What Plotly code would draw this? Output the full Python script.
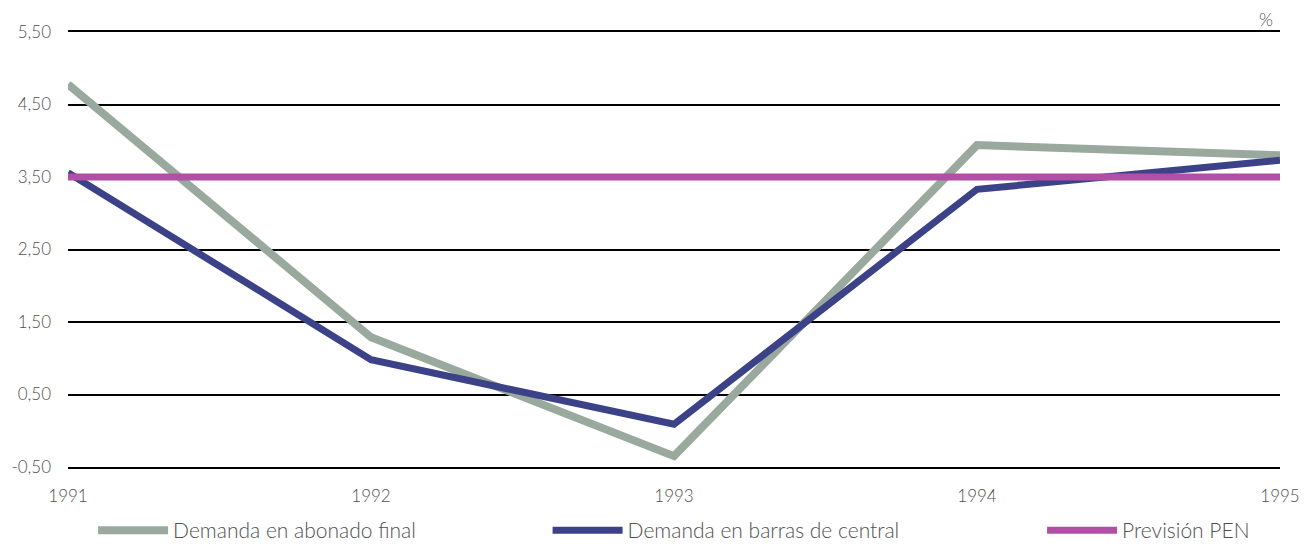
import plotly.graph_objects as go

years = [1991, 1992, 1993, 1994, 1995]
abonado_final = [4.78, 1.29, -0.35, 3.94, 3.80]
barras_central = [3.56, 0.98, 0.09, 3.33, 3.73]
prevision_pen = [3.50, 3.50, 3.50, 3.50, 3.50]
y_ticks = [-0.5, 0.5, 1.5, 2.5, 3.5, 4.5, 5.5]
y_tick_labels = ["-0,50", "0,50", "1,50", "2,50", "3,50", "4,50", "5,50"]

FONT = "Lato"
TXT = "#505050"

fig = go.Figure()
fig.add_trace(go.Scatter(x=years, y=abonado_final, mode="lines", name="Demanda en abonado final",
                         line=dict(color="#9aa99d", width=8), legend="legend", showlegend=True))
fig.add_trace(go.Scatter(x=years, y=barras_central, mode="lines", name="Demanda en barras de central",
                         line=dict(color="#3c4287", width=7), legend="legend2", showlegend=True))
fig.add_trace(go.Scatter(x=years, y=prevision_pen, mode="lines", name="Previsión PEN",
                         line=dict(color="#b04fa6", width=7), legend="legend3", showlegend=True))

leg_common = dict(orientation="h", yanchor="middle", y=-0.146, xanchor="left",
                  font=dict(family=FONT, size=21, color=TXT, weight=300),
                  bgcolor="rgba(0,0,0,0)", visible=True, itemwidth=70)

# page body has an 8px margin, so the figure is sized/offset to compensate
fig.update_layout(
    width=1303, height=541,
    margin=dict(l=60, r=31, t=24, b=82, autoexpand=False),
    paper_bgcolor="white", plot_bgcolor="white",
    showlegend=True,
    font=dict(family=FONT, color=TXT, size=17, weight=300),
    xaxis=dict(range=[1991, 1995], tickvals=years, ticktext=[str(y) for y in years],
               showgrid=False, zeroline=False, showline=True, mirror=True,
               linecolor="black", linewidth=2, ticks="", automargin=False,
               tickfont=dict(size=17, color=TXT), ticklabelstandoff=13),
    yaxis=dict(range=[-0.5, 5.5], tickvals=y_ticks, ticktext=y_tick_labels,
               showgrid=True, gridcolor="black", gridwidth=2, zeroline=False, showline=False,
               ticks="", automargin=False, tickfont=dict(size=17, color=TXT), ticklabelstandoff=16),
    legend=dict(x=0.0207, **leg_common),
    legend2=dict(x=0.3957, **leg_common),
    legend3=dict(x=0.8037, **leg_common),
    annotations=[dict(text="%", xref="paper", yref="paper", x=0.996, y=1.0, xanchor="right",
                      yanchor="bottom", showarrow=False, font=dict(size=18, color=TXT))],
)

fig.write_html("out.html")
